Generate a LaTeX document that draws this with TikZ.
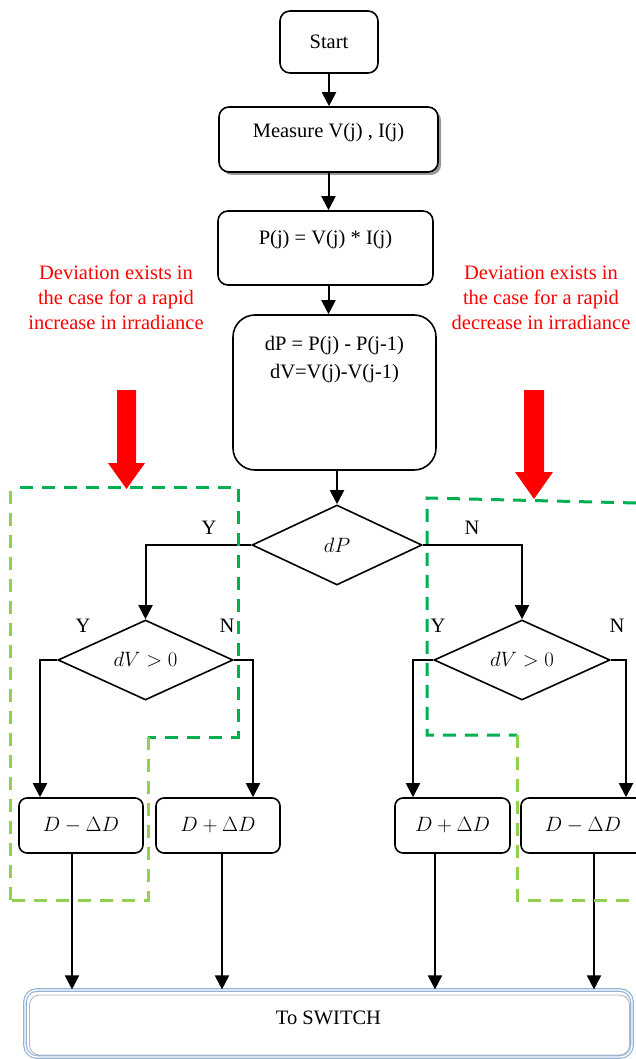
\documentclass[tikz,border=0pt]{standalone}
\usepackage{fontspec}
\setmainfont{Liberation Serif}
\usetikzlibrary{shapes.geometric,arrows.meta,shadows,calc}
\definecolor{dkgreen}{RGB}{0,176,80}
\definecolor{ltgreen}{RGB}{146,208,80}
\definecolor{swblue}{RGB}{149,179,215}
\definecolor{swgray}{RGB}{140,150,165}
\begin{document}
\begin{tikzpicture}[x=1pt,y=-1pt,
  font=\fontsize{20.5}{28}\selectfont,
  box/.style={draw,line width=1.6pt,rounded corners=10pt,inner sep=0pt,align=center,fill=white},
  dia/.style={draw,diamond,line width=1.6pt,inner sep=0pt,fill=white},
  arr/.style={line width=2pt,-{Triangle[length=14pt,width=14pt]}},
  dkg/.style={draw=dkgreen,line width=3pt,dash pattern=on 13pt off 9pt},
  ltg/.style={draw=ltgreen,line width=3pt,dash pattern=on 13pt off 9pt},
  lab/.style={inner sep=0pt},
  redtxt/.style={text=red,align=center,inner sep=0pt,font=\fontsize{20.5}{25}\selectfont},
  redarrow/.style={fill=red},
]
\clip (0,0) rectangle (636,1059);
\fill[white] (0,0) rectangle (636,1059);

% main boxes
\node[box,minimum width=98pt,minimum height=62pt] (start) at (329,42) {Start};
\node[box,minimum width=219pt,minimum height=65pt,
  drop shadow={shadow xshift=3pt,shadow yshift=-3pt,fill=black!40,opacity=1}] (meas) at (328.5,139.5) {};
\node[lab] (tmeas) at (328.5,133) {Measure V(j) , I(j)};
\node[box,minimum width=215pt,minimum height=74pt] (pj) at (325.5,248) {};
\node[lab] (tpj) at (325.5,240) {P(j) = V(j) * I(j)};
\node[box,minimum width=203pt,minimum height=155pt,rounded corners=22pt] (dpb) at (334.5,392.5) {};
\node[lab,align=center] (tdpb) at (334.5,360) {dP = P(j) - P(j-1)\\dV=V(j)-V(j-1)};

% decisions
\node[dia,minimum width=170pt,minimum height=80pt] (dp) at (337,545) {$dP$};
\node[dia,minimum width=175pt,minimum height=80pt] (dvl) at (145.5,660) {$dV>0$};
\node[dia,minimum width=176pt,minimum height=80pt] (dvr) at (522,660) {$dV>0$};

% duty boxes
\node[box,minimum width=124pt,minimum height=55pt,rounded corners=8pt] (b1) at (81,825.5) {$D-\Delta D$};
\node[box,minimum width=124pt,minimum height=55pt,rounded corners=8pt] (b2) at (218,825.5) {$D+\Delta D$};
\node[box,minimum width=115pt,minimum height=55pt,rounded corners=8pt] (b3) at (452.5,825.5) {$D+\Delta D$};
\node[box,minimum width=124pt,minimum height=55pt,rounded corners=8pt] (b4) at (583,825.5) {$D-\Delta D$};

% switch box
\node[draw=swblue,line width=1.2pt,rounded corners=12pt,minimum width=607pt,minimum height=67pt,inner sep=0pt,
  double=white,double distance=1.4pt] (sw) at (328.5,1023.5) {};
\node[draw=swgray!70,line width=0.8pt,rounded corners=10pt,minimum width=600pt,minimum height=60pt,inner sep=0pt] (swin) at (329.5,1025) {};
\node[lab] (tsw) at (328.5,1018) {To SWITCH};

% labels
\node[lab] (y1) at (209,528) {Y};
\node[lab] (n1) at (472,528) {N};
\node[lab] (y2) at (83,626) {Y};
\node[lab] (n2) at (227,626) {N};
\node[lab] (y3) at (438,626) {Y};
\node[lab] (n3) at (617,626) {N};

% connectors
\draw[arr] (start.south) -- (start.south |- meas.north);
\draw[arr] (meas.south) -- (meas.south |- pj.north);
\draw[arr] (meas.south |- pj.south) -- (meas.south |- dpb.north);
\draw[arr] (dpb.south -| dp.north) -- (dp.north);
\draw[arr] (dp.west) -| (dvl.north);
\draw[arr] (dp.east) -| (dvr.north);

\coordinate (c1) at (40,660);
\coordinate (c2) at (253,660);
\coordinate (c3) at (413,660);
\coordinate (c4) at (626,660);
\draw[arr] (dvl.west) -- (c1) -- (c1 |- b1.north);
\draw[arr] (dvl.east) -- (c2) -- (c2 |- b2.north);
\draw[arr] (dvr.west) -- (c3) -- (c3 |- b3.north);
\draw[arr] (dvr.east) -- (c4) -- (c4 |- b4.north);

\coordinate (o1) at ($(b1.south)+(-9,0)$);
\coordinate (o2) at ($(b2.south)+(4,0)$);
\coordinate (o3) at ($(b3.south)+(-17.5,0)$);
\coordinate (o4) at ($(b4.south)+(11,0)$);
\draw[arr] (o1) -- (o1 |- sw.north);
\draw[arr] (o2) -- (o2 |- sw.north);
\draw[arr] (o3) -- (o3 |- sw.north);
\draw[arr] (o4) -- (o4 |- sw.north);

% green dashed regions
\draw[ltg] (10,900) -- (10,487);
\draw[dkg] (20,487) -- (238,487) -- (238,737) -- (148,737);
\draw[ltg] (148,737) -- (148,900) -- (10,900);
\draw[dkg] (636,503) -- (427,498) -- (427,735) -- (517,735);
\draw[ltg] (517,735) -- (517,900) -- (636,900);

% red arrows
\fill[redarrow] (117,390) -- (136,390) -- (136,463) -- (145,463) -- (126.5,489) -- (108,463) -- (117,463) -- cycle;
\fill[redarrow] (524,390) -- (544,390) -- (544,472) -- (553,472) -- (534,499) -- (515,472) -- (524,472) -- cycle;

% red text
\node[redtxt] (rl) at (116,298) {Deviation exists in\\the case for a rapid\\increase in irradiance};
\node[redtxt] (rr) at (541,298) {Deviation exists in\\the case for a rapid\\decrease in irradiance};
\end{tikzpicture}
\end{document}
